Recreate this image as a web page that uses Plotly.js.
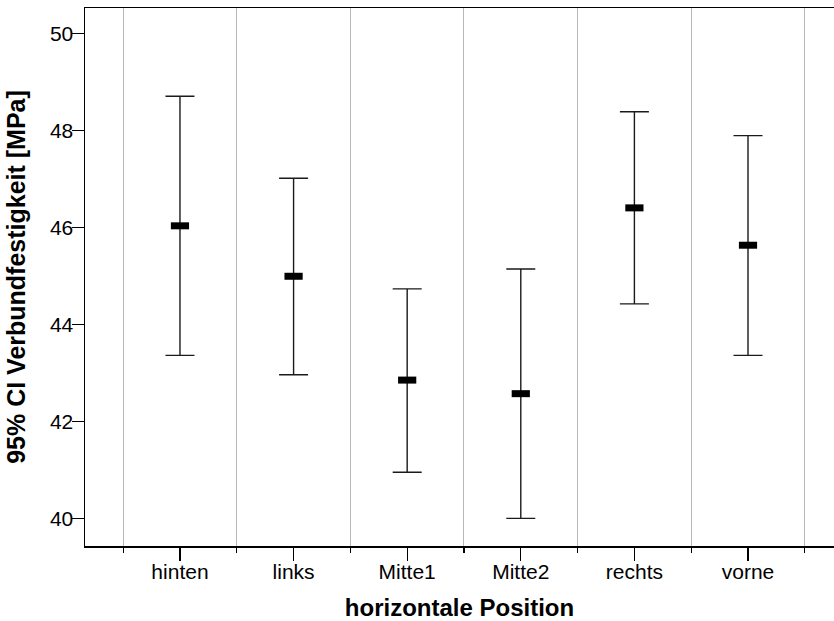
<!DOCTYPE html>
<html>
<head>
<meta charset="utf-8">
<script src="https://cdn.plot.ly/plotly-3.0.1.min.js"></script>
<style>html,body{margin:0;padding:0;background:#fff;overflow:hidden}</style>
</head>
<body>
<div id="chart" style="width:834px;height:621px"></div>
<script>
const categories = ["hinten", "links", "Mitte1", "Mitte2", "rechts", "vorne"];
const means = [46.04, 45.00, 42.86, 42.58, 46.41, 45.64];
const upperCI = [48.71, 47.02, 44.74, 45.15, 48.39, 47.90];
const lowerCI = [43.37, 42.97, 40.96, 40.01, 44.43, 43.37];
const yTicks = [40, 42, 44, 46, 48, 50];

const idx = categories.map((c, i) => i);
const boundaries = categories.map((c, i) => i - 0.5).concat([categories.length - 0.5]);

const FONT = "Liberation Sans, Arial, Helvetica, sans-serif";

const traces = [
  {
    type: "scatter",
    mode: "markers",
    x: idx,
    y: means,
    xaxis: "x",
    yaxis: "y",
    marker: {symbol: "line-ew", size: 13, color: "#000", line: {width: 7, color: "#000"}},
    error_y: {
      type: "data",
      symmetric: false,
      array: upperCI.map((u, i) => u - means[i]),
      arrayminus: lowerCI.map((l, i) => means[i] - l),
      width: 14.5,
      thickness: 1.4,
      color: "#1a1a1a"
    },
    showlegend: false,
    hoverinfo: "skip"
  },
  {type: "scatter", mode: "markers", x: [], y: [], xaxis: "x2", yaxis: "y", showlegend: false},
  {type: "scatter", mode: "markers", x: [], y: [], xaxis: "x3", yaxis: "y", showlegend: false}
];

const xr = [-0.836, 5.757];

const layout = {
  width: 834,
  height: 621,
  margin: {l: 85, r: 0, t: 8, b: 75},
  paper_bgcolor: "#fff",
  plot_bgcolor: "#fff",
  font: {family: FONT, size: 21, color: "#000"},
  showlegend: false,
  xaxis: {
    range: xr,
    tickvals: idx,
    ticktext: categories,
    ticks: "outside",
    ticklen: 6,
    tickwidth: 1.3,
    tickcolor: "#000",
    showgrid: false,
    zeroline: false,
    showline: true,
    linecolor: "#000",
    linewidth: 1.5,
    mirror: true,
    tickfont: {family: FONT, size: 21, color: "#000"},
    title: {text: "horizontale Position", font: {family: FONT, size: 24, color: "#000", weight: "bold"}}
  },
  xaxis2: {
    overlaying: "x",
    anchor: "y",
    side: "bottom",
    range: xr,
    tickvals: boundaries,
    showticklabels: false,
    ticks: "outside",
    ticklen: 6,
    tickwidth: 1.3,
    tickcolor: "#000",
    showgrid: true,
    gridcolor: "#b8b8b8",
    gridwidth: 1,
    zeroline: false,
    showline: false
  },
  xaxis3: {
    overlaying: "x",
    anchor: "y",
    side: "bottom",
    range: xr,
    tickvals: idx,
    showticklabels: false,
    ticks: "outside",
    ticklen: 14,
    tickwidth: 1.3,
    tickcolor: "#000",
    showgrid: false,
    zeroline: false,
    showline: false
  },
  yaxis: {
    range: [39.44, 50.53],
    tickvals: yTicks,
    ticks: "outside",
    ticklen: 12,
    tickwidth: 1.3,
    tickcolor: "#000",
    ticklabelstandoff: -6,
    showgrid: false,
    zeroline: false,
    showline: true,
    linecolor: "#000",
    linewidth: 1.5,
    tickfont: {family: FONT, size: 21, color: "#000"},
    title: {text: "95% CI Verbundfestigkeit [MPa]", font: {family: FONT, size: 25, color: "#000", weight: "bold"}}
  }
};

Plotly.newPlot("chart", traces, layout, {displayModeBar: false, staticPlot: true});
</script>
</body>
</html>
